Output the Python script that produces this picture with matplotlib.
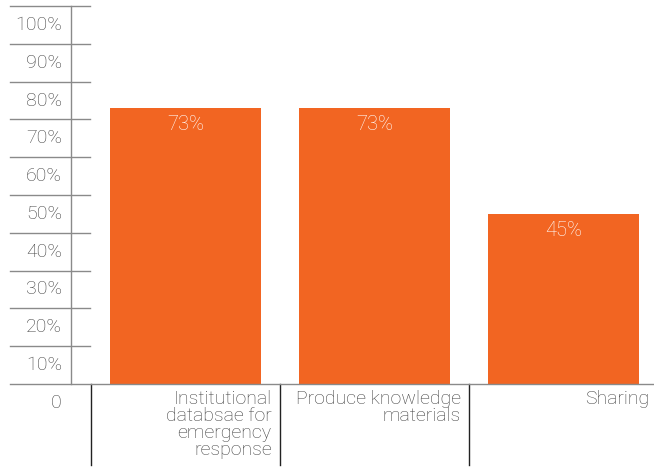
import matplotlib.pyplot as plt
import matplotlib.transforms as mtransforms

categories = ['Institutional\ndatabsae for\nemergency\nresponse',
              'Produce knowledge\nmaterials',
              'Sharing']
values = [73, 73, 45]
y_levels = [10, 20, 30, 40, 50, 60, 70, 80, 90, 100]

BAR_COLOR = '#F26522'
TEXT_COLOR = '#404040'
AXIS_COLOR = '#8a8a8a'
FS = 14

plt.rcParams['font.family'] = ['Roboto', 'DejaVu Sans']

W, H = 654, 467
fig = plt.figure(figsize=(W / 100, H / 100), dpi=100)
# plot area in pixels: y axis at x=71, 100% at y=6, 0 at y=384
ax = fig.add_axes([71 / W, (H - 384) / H, (W - 71) / W, 378 / H])

x = list(range(len(categories)))
ax.bar(x, values, width=0.8, color=BAR_COLOR, zorder=2)
ax.set_xlim(-0.606, 2.479)
ax.set_ylim(0, 100)

for s in ['top', 'right', 'bottom']:
    ax.spines[s].set_visible(False)
ax.spines['left'].set_color(AXIS_COLOR)
ax.spines['left'].set_linewidth(1.0)
ax.set_xticks([])
ax.set_yticks([])

fig_y = mtransforms.blended_transform_factory(fig.transFigure, ax.transData)

# short tick segments crossing the y axis, with labels sitting under each one
for lv in y_levels:
    ax.plot([10 / W, 90 / W], [lv, lv], transform=fig_y, color=AXIS_COLOR,
            lw=1.0, clip_on=False)
    ax.text(62 / W, lv - 5, f'{lv}%', transform=fig_y, ha='right', va='center',
            fontsize=FS, fontweight='light', color=TEXT_COLOR)
ax.text(62 / W, -5, '0', transform=fig_y, ha='right', va='center',
        fontsize=FS, fontweight='light', color=TEXT_COLOR)

# baseline
ax.plot([10 / W, 1], [0, 0], transform=fig_y, color=AXIS_COLOR, lw=1.0,
        clip_on=False, zorder=3)

# category separators below the baseline
for xi in [-0.5, 0.5, 1.5]:
    ax.plot([xi, xi], [0, -21.4], color='#222222', lw=1.0, clip_on=False)

for i, lab in enumerate(categories):
    ax.annotate(lab, xy=(i + 0.5, 0), xytext=(-6, -4), textcoords='offset points',
                ha='right', va='top', ma='right', fontsize=FS,
                fontweight='light', color=TEXT_COLOR, linespacing=0.95,
                annotation_clip=False)

for i, v in enumerate(values):
    ax.annotate(f'{v}%', xy=(i, v), xytext=(0, -5), textcoords='offset points',
                ha='center', va='top', fontsize=FS + 0.5, fontweight='light',
                color='white', zorder=4)

fig.savefig('out.png', dpi=100)
